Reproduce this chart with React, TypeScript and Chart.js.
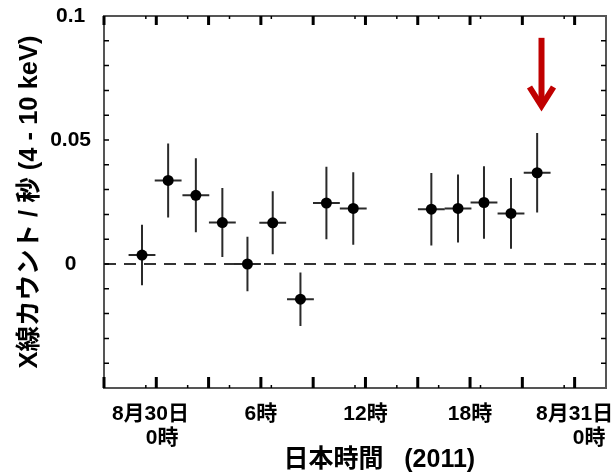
import { useEffect, useRef } from 'react';
import { Chart, registerables } from 'chart.js';

Chart.register(...registerables);

// ---- data (hours since 2011-08-30 00:00 JST) ----
const TIME_HOURS = [-0.82, 0.68, 2.27, 3.79, 5.23, 6.68, 8.27, 9.76, 11.3, 15.78, 17.31, 18.8, 20.35, 21.85];
const RATE = [0.0036, 0.0337, 0.0277, 0.0167, 0.0, 0.0166, -0.0142, 0.0246, 0.0224, 0.0221, 0.0224, 0.0248, 0.0204, 0.0368];
const RATE_ERR = [0.0122, 0.0149, 0.0149, 0.0139, 0.011, 0.0127, 0.0108, 0.0146, 0.0146, 0.0146, 0.0137, 0.0146, 0.0143, 0.016];
const TIME_HALF_WIDTH = 0.77;

const X_MIN = -3;
const X_MAX = 25.8;
const Y_MIN = -0.05;
const Y_MAX = 0.1;

const X_TICK_VALUES = [0, 6, 12, 18, 24];
const X_TICK_LABELS: (string | string[])[] = [
  ['8月30日  ', '  0時'],
  '6時',
  '12時',
  '18時',
  ['8月31日', '     0時'],
];
const X_MAJOR_TICKS = [-3, 0, 3, 6, 9, 12, 15, 18, 21, 24];
const X_MINOR_TICKS = [-0.6, 1.8, 4.2, 6.6, 9.0, 11.4, 13.8, 16.2, 18.6, 21.0, 23.4];

const Y_TICK_VALUES = [0, 0.05, 0.1];
const Y_TICK_LABELS = ['0', '0.05', '0.1'];
const Y_MINOR_TICKS = [-0.04, -0.03, -0.02, -0.01, 0, 0.01, 0.02, 0.03, 0.04, 0.05, 0.06, 0.07, 0.08, 0.09];

const ZERO_LINE_VALUE = 0;
const ARROW_X = 22.1;
const ARROW_Y_TOP = 0.0912;
const ARROW_Y_TIP = 0.0625;

const X_TITLE = '       日本時間   (2011)';
const Y_TITLE = 'X線カウント / 秒 (4 - 10 keV)';

const FONT_FAMILY = "'Liberation Sans', Arial, 'Noto Sans CJK JP', sans-serif";

const decorPlugin = {
  id: 'decor',
  beforeDatasetsDraw(chart: any) {
    const { ctx, chartArea: a, scales } = chart;
    const x = scales.x;
    const y = scales.y;
    ctx.save();
    // dashed zero line
    const y0 = y.getPixelForValue(ZERO_LINE_VALUE);
    ctx.strokeStyle = '#333';
    ctx.lineWidth = 2;
    ctx.setLineDash([12, 8]);
    ctx.beginPath();
    ctx.moveTo(a.left, y0);
    ctx.lineTo(a.right, y0);
    ctx.stroke();
    ctx.setLineDash([]);
    // error bars
    ctx.strokeStyle = '#2a2a2a';
    ctx.lineWidth = 2;
    TIME_HOURS.forEach((t, i) => {
      const px = x.getPixelForValue(t);
      const py = y.getPixelForValue(RATE[i]);
      ctx.beginPath();
      ctx.moveTo(px, y.getPixelForValue(RATE[i] + RATE_ERR[i]));
      ctx.lineTo(px, y.getPixelForValue(RATE[i] - RATE_ERR[i]));
      ctx.moveTo(x.getPixelForValue(t - TIME_HALF_WIDTH), py);
      ctx.lineTo(x.getPixelForValue(t + TIME_HALF_WIDTH), py);
      ctx.stroke();
    });
    ctx.restore();
  },
  afterDatasetsDraw(chart: any) {
    const { ctx, chartArea: a, scales } = chart;
    const x = scales.x;
    const y = scales.y;
    ctx.save();
    // frame
    ctx.strokeStyle = '#555';
    ctx.lineWidth = 2;
    ctx.strokeRect(a.left, a.top, a.right - a.left, a.bottom - a.top);
    // x major ticks (inward, top and bottom)
    ctx.strokeStyle = '#000';
    ctx.lineWidth = 3;
    ctx.beginPath();
    X_MAJOR_TICKS.forEach((v) => {
      const px = x.getPixelForValue(v);
      ctx.moveTo(px, a.bottom);
      ctx.lineTo(px, a.bottom - 11);
      ctx.moveTo(px, a.top);
      ctx.lineTo(px, a.top + 9);
    });
    ctx.stroke();
    // x minor ticks
    ctx.lineWidth = 1.5;
    ctx.beginPath();
    X_MINOR_TICKS.forEach((v) => {
      const px = x.getPixelForValue(v);
      ctx.moveTo(px, a.bottom);
      ctx.lineTo(px, a.bottom - 3);
      ctx.moveTo(px, a.top);
      ctx.lineTo(px, a.top + 3);
    });
    ctx.stroke();
    // y ticks (left and right, inward)
    ctx.lineWidth = 1.5;
    ctx.beginPath();
    Y_MINOR_TICKS.forEach((v) => {
      const py = y.getPixelForValue(v);
      ctx.moveTo(a.left, py);
      ctx.lineTo(a.left + 5, py);
      ctx.moveTo(a.right, py);
      ctx.lineTo(a.right - 5, py);
    });
    ctx.stroke();
    // red arrow
    const ax = x.getPixelForValue(ARROW_X);
    const aTop = y.getPixelForValue(ARROW_Y_TOP);
    const aTip = y.getPixelForValue(ARROW_Y_TIP);
    ctx.strokeStyle = '#c00000';
    ctx.lineWidth = 6;
    ctx.lineCap = 'butt';
    ctx.lineJoin = 'miter';
    ctx.beginPath();
    ctx.moveTo(ax, aTop);
    ctx.lineTo(ax, aTip - 4);
    ctx.stroke();
    ctx.beginPath();
    ctx.moveTo(ax - 12, aTip - 22);
    ctx.lineTo(ax, aTip - 3);
    ctx.lineTo(ax + 12, aTip - 22);
    ctx.stroke();
    ctx.restore();
  },
};

export default function App() {
  const ref = useRef<HTMLCanvasElement | null>(null);
  useEffect(() => {
    if (!ref.current) return;
    Chart.defaults.font.family = FONT_FAMILY;
    const chart = new Chart(ref.current, {
      type: 'scatter',
      data: {
        datasets: [
          {
            data: TIME_HOURS.map((t, i) => ({ x: t, y: RATE[i] })),
            pointRadius: 5.5,
            pointBackgroundColor: '#000',
            pointBorderColor: '#000',
            pointBorderWidth: 0,
            showLine: false,
          },
        ],
      },
      options: {
        animation: false,
        responsive: false,
        layout: { padding: { left: 0, right: 7, top: 16, bottom: 0 } },
        plugins: { legend: { display: false }, tooltip: { enabled: false } },
        scales: {
          x: {
            type: 'linear',
            min: X_MIN,
            max: X_MAX,
            grid: { display: false, drawTicks: false },
            border: { display: false },
            afterBuildTicks: (s: any) => {
              s.ticks = X_TICK_VALUES.map((v) => ({ value: v }));
            },
            afterFit: (s: any) => {
              s.height = 87;
              s.paddingLeft = 0;
              s.paddingRight = 0;
            },
            ticks: {
              autoSkip: false,
              maxRotation: 0,
              minRotation: 0,
              padding: 14,
              color: '#000',
              font: { size: 21, weight: 'bold', lineHeight: 1.15 },
              callback: (_v: any, i: number) => X_TICK_LABELS[i],
            },
            title: {
              display: true,
              text: X_TITLE,
              color: '#000',
              font: { size: 25, weight: 'bold', lineHeight: 1.2 },
              padding: { top: 0, bottom: 0 },
            },
          },
          y: {
            type: 'linear',
            min: Y_MIN,
            max: Y_MAX,
            grid: { display: false, drawTicks: false },
            border: { display: false },
            afterBuildTicks: (s: any) => {
              s.ticks = Y_TICK_VALUES.map((v) => ({ value: v }));
            },
            afterFit: (s: any) => {
              s.width = 104;
              s.paddingTop = 0;
              s.paddingBottom = 0;
            },
            ticks: {
              crossAlign: 'center',
              padding: 13,
              color: '#000',
              font: { size: 21, weight: 'bold' },
              callback: (_v: any, i: number) => Y_TICK_LABELS[i],
            },
            title: {
              display: true,
              text: Y_TITLE,
              color: '#000',
              font: { size: 25.5, weight: 'bold', lineHeight: 1.2 },
              padding: { top: 15, bottom: 0 },
            },
          },
        },
      } as any,
      plugins: [decorPlugin],
    });
    return () => chart.destroy();
  }, []);
  return (
    <div style={{ position: 'absolute', left: 0, top: 0, width: 613, height: 475, background: '#fff' }}>
      <canvas ref={ref} width={613} height={475} style={{ display: 'block' }} />
    </div>
  );
}
